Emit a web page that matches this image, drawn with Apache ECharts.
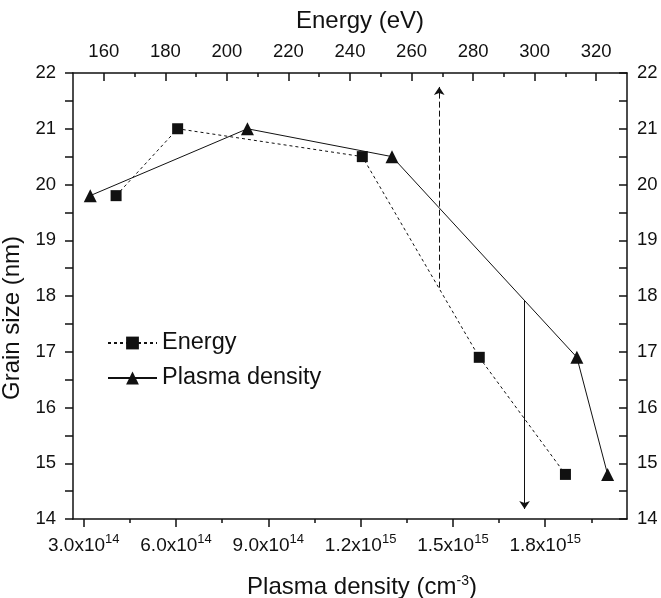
<!DOCTYPE html>
<html>
<head>
<meta charset="utf-8">
<script src="https://cdn.jsdelivr.net/npm/echarts@6/dist/echarts.min.js"></script>
<style>
html,body{margin:0;padding:0;background:#fff;}
#c{width:661px;height:598px;}
</style>
</head>
<body>
<div id="c"></div>
<script>
// ---- data ----
var energyX = [164, 184, 244, 282, 310];            // eV (top axis)
var energyY = [19.8, 21.0, 20.5, 16.9, 14.8];        // grain size nm
var plasmaX = [3.21e14, 8.32e14, 1.302e15, 1.903e15, 2.003e15]; // cm^-3 (bottom axis)
var plasmaY = [19.8, 21.0, 20.5, 16.9, 14.8];        // grain size nm

var plasmaTicks = [3e14, 6e14, 9e14, 1.2e15, 1.5e15, 1.8e15];
var plasmaTickMant = ['3.0', '6.0', '9.0', '1.2', '1.5', '1.8'];
var plasmaTickExp = ['14', '14', '14', '15', '15', '15'];
var plasmaMinorTicks = [4.5e14, 7.5e14, 1.05e15, 1.35e15, 1.65e15, 1.95e15];
var energyTicks = [160, 180, 200, 220, 240, 260, 280, 300, 320];
var energyMinorTicks = [170, 190, 210, 230, 250, 270, 290, 310];

var energyArrowX = [269, 269];
var energyArrowY = [18.15, 21.75];
var plasmaArrowX = [1.733e15, 1.733e15];
var plasmaArrowY = [17.92, 14.18];

var plasmaMin = 2.65e14, plasmaMax = 2.066e15;
var energyMin = 150, energyMax = 330;
var yMin = 14, yMax = 22;

// ---- chart ----
var FONT = '"Liberation Sans", Arial, sans-serif';
var BLACK = '#111';
var chart = echarts.init(document.getElementById('c'), null, {renderer: 'canvas'});

function zip(xs, ys) { return xs.map(function (x, i) { return [x, ys[i]]; }); }

var gridRect = {left: 73, top: 73, right: 34, bottom: 79, containLabel: false, outerBoundsMode: 'none'};

var option = {
  animation: false,
  backgroundColor: '#fff',
  textStyle: {fontFamily: FONT, color: BLACK},
  grid: [
    Object.assign({}, gridRect),
    Object.assign({}, gridRect)
  ],
  legend: {
    orient: 'vertical',
    left: 107,
    top: 331,
    padding: 0,
    itemWidth: 49,
    itemHeight: 16,
    itemGap: 11,
    textStyle: {fontFamily: FONT, fontSize: 23.5, color: BLACK},
    data: ['Energy', 'Plasma density']
  },
  xAxis: [
    {
      gridIndex: 0, type: 'value', position: 'bottom',
      min: plasmaMin, max: plasmaMax,
      name: '{a|Plasma density (cm}{s|-3}{a|)}',
      nameLocation: 'middle', nameGap: 52,
      nameTextStyle: {
        padding: [0, 0, 0, 24],
        rich: {
          a: {fontFamily: FONT, fontSize: 24, color: BLACK, verticalAlign: 'bottom', lineHeight: 28},
          s: {fontFamily: FONT, fontSize: 14, color: BLACK, verticalAlign: 'bottom', lineHeight: 28, padding: [0, 0, 11, 0]}
        }
      },
      axisLine: {show: true, lineStyle: {color: BLACK, width: 1.5}},
      axisTick: {show: true, inside: false, length: 8, customValues: plasmaTicks, lineStyle: {color: BLACK, width: 1.5}},
      axisLabel: {
        show: true, margin: 13, customValues: plasmaTicks,
        formatter: function (v) {
          var idx = 0, best = Infinity;
          plasmaTicks.forEach(function (t, i) { var d = Math.abs(t - v); if (d < best) { best = d; idx = i; } });
          return '{m|' + plasmaTickMant[idx] + 'x10}{e|' + plasmaTickExp[idx] + '}';
        },
        rich: {
          m: {fontFamily: FONT, fontSize: 19, color: BLACK, verticalAlign: 'bottom', lineHeight: 23},
          e: {fontFamily: FONT, fontSize: 13, color: BLACK, verticalAlign: 'bottom', lineHeight: 23, padding: [0, 0, 9, 0]}
        }
      },
      splitLine: {show: false}
    },
    {
      gridIndex: 0, type: 'value', position: 'top',
      min: energyMin, max: energyMax,
      name: 'Energy (eV)', nameLocation: 'middle', nameGap: 40,
      nameTextStyle: {fontFamily: FONT, fontSize: 24, color: BLACK, padding: [0, 0, 0, 20]},
      axisLine: {show: true, lineStyle: {color: BLACK, width: 1.5}},
      axisTick: {show: true, inside: true, length: 8, customValues: energyTicks, lineStyle: {color: BLACK, width: 1.5}},
      axisLabel: {show: true, margin: 12, customValues: energyTicks, fontFamily: FONT, fontSize: 18.5, color: BLACK},
      splitLine: {show: false}
    },
    {
      gridIndex: 1, type: 'value', position: 'bottom',
      min: plasmaMin, max: plasmaMax,
      axisLine: {show: false},
      axisTick: {show: true, inside: false, length: 4, customValues: plasmaMinorTicks, lineStyle: {color: BLACK, width: 1.5}},
      axisLabel: {show: false},
      splitLine: {show: false}
    },
    {
      gridIndex: 1, type: 'value', position: 'top',
      min: energyMin, max: energyMax,
      axisLine: {show: false},
      axisTick: {show: true, inside: true, length: 4, customValues: energyMinorTicks, lineStyle: {color: BLACK, width: 1.5}},
      axisLabel: {show: false},
      splitLine: {show: false}
    }
  ],
  yAxis: [
    {
      gridIndex: 0, type: 'value', position: 'left',
      min: yMin, max: yMax, interval: 1,
      name: 'Grain size (nm)', nameLocation: 'middle', nameGap: 40,
      nameTextStyle: {fontFamily: FONT, fontSize: 24, color: BLACK, padding: [0, 44, 0, 0]},
      axisLine: {show: true, lineStyle: {color: BLACK, width: 1.5}},
      axisTick: {show: true, inside: false, length: 8, lineStyle: {color: BLACK, width: 1.5}},
      minorTick: {show: true, splitNumber: 2, length: 8, lineStyle: {color: BLACK, width: 1.5}},
      axisLabel: {show: true, margin: 17, fontFamily: FONT, fontSize: 18.5, color: BLACK},
      splitLine: {show: false}
    },
    {
      gridIndex: 0, type: 'value', position: 'right',
      min: yMin, max: yMax, interval: 1,
      axisLine: {show: true, lineStyle: {color: BLACK, width: 1.5}},
      axisTick: {show: true, inside: true, length: 8, lineStyle: {color: BLACK, width: 1.5}},
      minorTick: {show: true, splitNumber: 2, length: 8, lineStyle: {color: BLACK, width: 1.5}},
      axisLabel: {show: true, margin: 10, fontFamily: FONT, fontSize: 18.5, color: BLACK},
      splitLine: {show: false}
    },
    {
      gridIndex: 1, type: 'value', show: false, min: yMin, max: yMax
    }
  ],
  series: [
    {
      name: 'Energy', type: 'line', xAxisIndex: 1, yAxisIndex: 0,
      data: zip(energyX, energyY),
      symbol: 'rect', symbolSize: 11,
      itemStyle: {color: BLACK},
      lineStyle: {color: BLACK, width: 1, type: [3, 3]},
      emphasis: {disabled: true},
      markLine: {
        silent: true, animation: false,
        symbol: ['none', 'arrow'], symbolSize: 8,
        label: {show: false},
        lineStyle: {color: BLACK, width: 1, type: [6, 3]},
        data: [[{coord: [energyArrowX[0], energyArrowY[0]]}, {coord: [energyArrowX[1], energyArrowY[1]]}]]
      }
    },
    {
      name: 'Plasma density', type: 'line', xAxisIndex: 0, yAxisIndex: 0,
      data: zip(plasmaX, plasmaY),
      symbol: 'triangle', symbolSize: 13,
      itemStyle: {color: BLACK},
      lineStyle: {color: BLACK, width: 1, type: 'solid'},
      emphasis: {disabled: true},
      markLine: {
        silent: true, animation: false,
        symbol: ['none', 'arrow'], symbolSize: 8,
        label: {show: false},
        lineStyle: {color: BLACK, width: 1, type: 'solid'},
        data: [[{coord: [plasmaArrowX[0], plasmaArrowY[0]]}, {coord: [plasmaArrowX[1], plasmaArrowY[1]]}]]
      }
    }
  ]
};
chart.setOption(option);
</script>
</body>
</html>
